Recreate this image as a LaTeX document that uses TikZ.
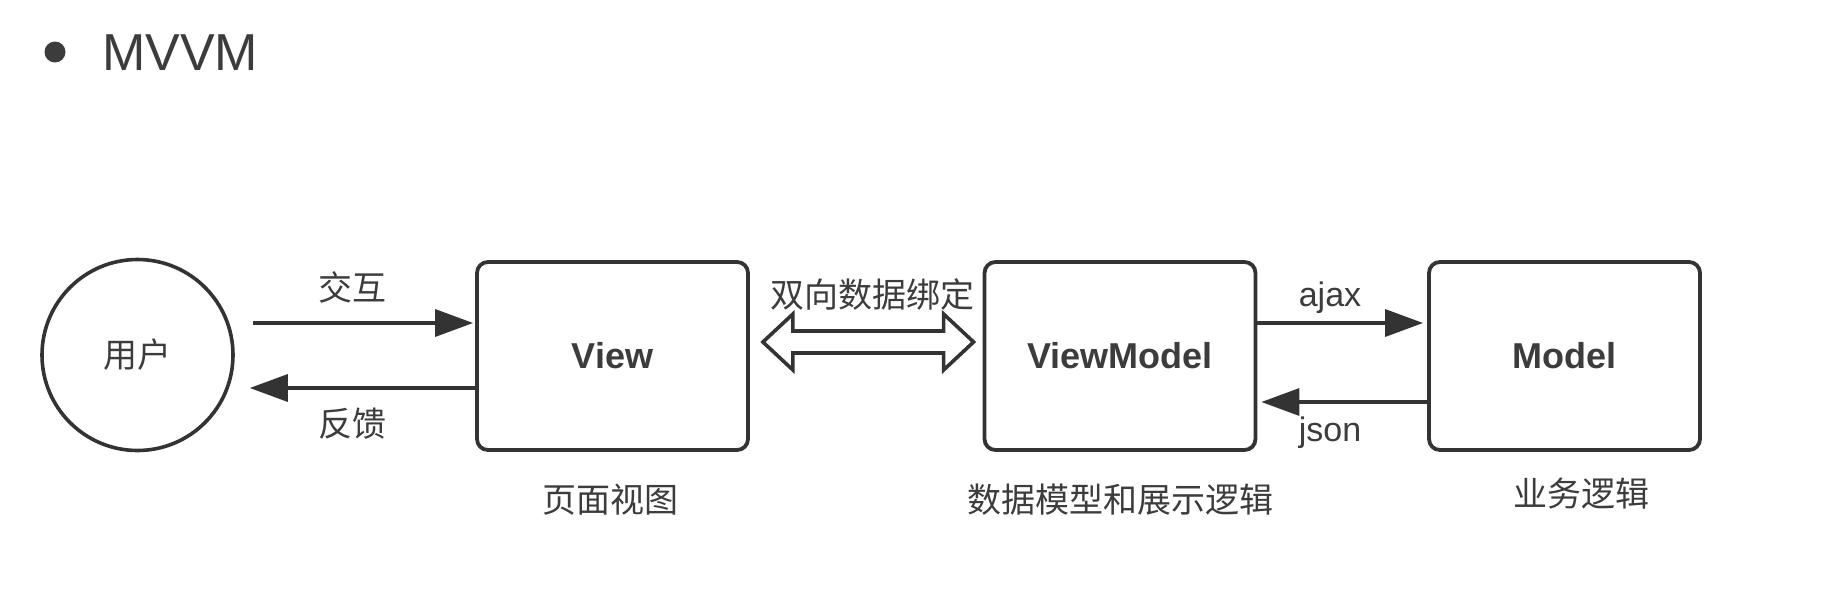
\documentclass[tikz,border=0pt]{standalone}
\usepackage{fontspec}
\setmainfont{Liberation Sans}
\newfontfamily\cjk{Noto Sans CJK SC}
\usetikzlibrary{arrows.meta,calc}
\definecolor{ink}{HTML}{333333}
\definecolor{txt}{HTML}{3C3C3C}
\tikzset{
  box/.style={draw=ink, line width=3.8pt, rounded corners=11pt, minimum width=271pt, minimum height=188pt, fill=white,
    text=txt, font=\fontsize{36}{40}\selectfont\bfseries},
  userc/.style={draw=ink, line width=3.6pt, circle, minimum size=191pt, inner sep=0pt, text=txt,
    font=\cjk\fontsize{34}{40}\selectfont},
  arr/.style={draw=ink, line width=3.4pt, -{Triangle[length=38pt,width=27pt]}},
  cjklabel/.style={text=txt, inner sep=0pt, font=\cjk\fontsize{34}{40}\selectfont},
  latlabel/.style={text=txt, inner sep=0pt, font=\fontsize{34}{40}\selectfont},
  dblarrow/.style={draw=ink, line width=3.6pt, fill=white, line join=miter},
}
\begin{document}
\begin{tikzpicture}[x=1pt, y=-1pt]
\useasboundingbox (0,0) rectangle (1834,592);
\fill[white] (0,0) rectangle (1834,592);
% title
\fill[txt] (55,52) circle (10.5);
\node[anchor=west, inner sep=0pt, text=txt, font=\fontsize{52}{60}\selectfont] (title) at (102,52.5) {MVVM};
% nodes
\node[userc] (user) at (137.5,355) {用户};
\node[box] (view) at (612.5,356) {View};
\node[box] (vm) at (1120,356) {ViewModel};
\node[box] (model) at (1564.5,356) {Model};
% user <-> view
\draw[arr, shorten >=2pt] ($(user.east)+(18,-32)$) -- ($(view.west)+(0,-33)$);
\draw[arr] ($(view.west)+(0,32)$) -- ($(user.east)+(15,33)$);
\node[cjklabel] (l1) at (352,287) {交互};
\node[cjklabel] (l2) at (352,424) {反馈};
% two-way binding
\coordinate (dl) at ($(view.east)+(13,-14)$);
\coordinate (dr) at ($(vm.west)+(-9,-14)$);
\draw[dblarrow] (dl) -- ($(dl)+(30,-28)$) -- ($(dl)+(30,-11)$) -- ($(dr)+(-30,-11)$) -- ($(dr)+(-30,-28)$)
  -- (dr) -- ($(dr)+(-30,28)$) -- ($(dr)+(-30,11)$) -- ($(dl)+(30,11)$) -- ($(dl)+(30,28)$) -- cycle;
\node[cjklabel] (l3) at (872,295) {双向数据绑定};
% vm <-> model
\draw[arr, shorten >=4pt] ($(vm.east)+(0,-33)$) -- ($(model.west)+(0,-33)$);
\draw[arr] ($(model.west)+(0,46)$) -- ($(vm.east)+(4,46)$);
\node[latlabel] (l4) at (1330,298) {ajax};
\node[latlabel] (l5) at (1330,433) {json};
% captions
\node[cjklabel] (c1) at (610,500) {页面视图};
\node[cjklabel] (c2) at (1120,500) {数据模型和展示逻辑};
\node[cjklabel] (c3) at (1581,494) {业务逻辑};
\end{tikzpicture}
\end{document}
